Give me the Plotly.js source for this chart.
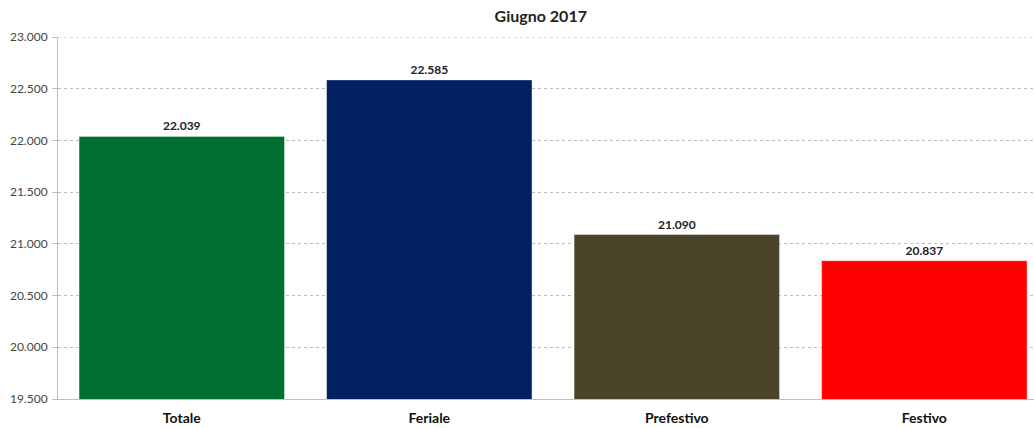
<!DOCTYPE html>
<html><head><meta charset="utf-8">
<script src="https://cdn.plot.ly/plotly-3.0.1.min.js"></script>
<style>html,body{margin:0;padding:0;background:#fff}#c{width:1034px;height:428px}</style>
</head><body><div id="c"></div>
<script>
const categories = ["Totale", "Feriale", "Prefestivo", "Festivo"];
const values = [22039, 22585, 21090, 20837];
const colors = ["#006F31", "#002060", "#4A452A", "#FF0000"];
const yTicks = [19500, 20000, 20500, 21000, 21500, 22000, 22500, 23000];
const FONT = "Lato, 'Open Sans', sans-serif";

const trace = {
  type: "bar", x: categories, y: values,
  marker: {color: colors, line: {color: "rgba(255,255,255,0.4)", width: 1}},
  width: 0.83,
  texttemplate: "%{y:,d}", textposition: "outside",
  textfont: {family: FONT, size: 12, color: "#222", weight: "bold"},
  cliponaxis: false, hoverinfo: "none"
};
const layout = {
  width: 1034, height: 428, separators: ",.",
  margin: {l: 58, r: 0, t: 37, b: 29},
  paper_bgcolor: "#fff", plot_bgcolor: "#fff",
  title: {text: "<b>Giugno 2017</b>", x: 0.523, xanchor: "center", y: 0.975, yanchor: "top",
          font: {family: FONT, size: 16, color: "#222"}},
  showlegend: false,
  shapes: [{type: "line", xref: "paper", x0: 0, x1: 1, yref: "y", y0: yTicks[yTicks.length-1], y1: yTicks[yTicks.length-1],
            line: {color: "#bdbdbd", width: 1, dash: "dot"}, layer: "below"}],
  xaxis: {range: [-0.5, 3.443], showgrid: false, showline: true, linecolor: "#bfbfbf", linewidth: 1,
          ticks: "", ticklabelstandoff: 6,
          tickfont: {family: FONT, size: 14, color: "#111", weight: "bold"}},
  yaxis: {range: [19500, 23000], tickvals: yTicks, tickformat: ",d", showline: true, linecolor: "#bfbfbf",
          ticks: "outside", ticklen: 5, tickcolor: "#bfbfbf", zeroline: false,
          gridcolor: "#bdbdbd", griddash: "dot", gridwidth: 1, ticklabelstandoff: 2,
          tickfont: {family: FONT, size: 12, color: "#444"}}
};
Plotly.newPlot("c", [trace], layout, {displayModeBar: false, staticPlot: true});
</script></body></html>
